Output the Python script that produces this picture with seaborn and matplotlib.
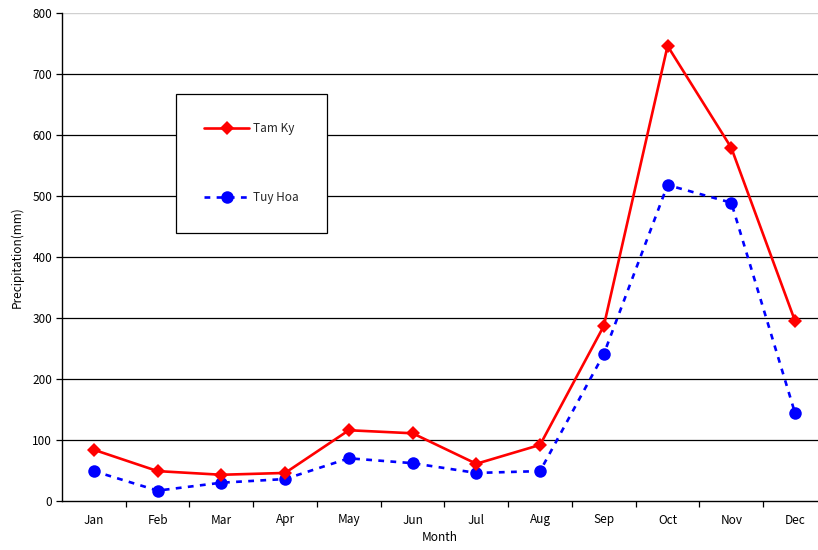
import matplotlib
matplotlib.use("Agg")
import matplotlib.pyplot as plt
import seaborn as sns
import pandas as pd
from matplotlib.lines import Line2D
from matplotlib.ticker import MultipleLocator, FixedLocator

months = ["Jan", "Feb", "Mar", "Apr", "May", "Jun",
          "Jul", "Aug", "Sep", "Oct", "Nov", "Dec"]
tam_ky = [84, 49, 43, 46, 116, 111, 61, 92, 287, 746, 579, 295]
tuy_hoa = [49, 17, 30, 36, 70, 62, 46, 49, 241, 518, 489, 144]

sns.set_theme(style="white")
plt.rcParams["font.family"] = ["Noto Sans CJK JP", "DejaVu Sans"]

df = pd.DataFrame({"Month": list(range(len(months))),
                   "Tam Ky": tam_ky, "Tuy Hoa": tuy_hoa})

fig = plt.figure(figsize=(8.18, 5.5), dpi=100)
ax = fig.add_axes([62 / 818, 49 / 550, 756 / 818, 488 / 550])

# horizontal gridlines
for yv in range(100, 800, 100):
    ax.axhline(yv, color="black", lw=0.9, zorder=1)
ax.axhline(800, color="#d0d0d0", lw=1.0, zorder=1)

sns.lineplot(data=df, x="Month", y="Tam Ky", ax=ax, color="#ff0000",
             lw=1.9, marker="D", markersize=6.8, markeredgewidth=0,
             zorder=4)
sns.lineplot(data=df, x="Month", y="Tuy Hoa", ax=ax, color="#0000ff",
             lw=1.9, linestyle=(0, (2.2, 2.4)), marker="o", markersize=9,
             markeredgewidth=0, zorder=3)

ax.set_xlim(-0.5, 11.36)
ax.set_ylim(0, 800)
ax.xaxis.set_major_locator(FixedLocator(range(12)))
ax.set_xticklabels(months)
ax.xaxis.set_minor_locator(FixedLocator([i + 0.5 for i in range(11)]))
ax.tick_params(axis="x", which="major", length=0, pad=9, labelsize=8.5,
               colors="black")
ax.tick_params(axis="x", which="minor", length=4, width=0.9,
               direction="out", bottom=True, color="black")
ax.yaxis.set_major_locator(MultipleLocator(100))
ax.tick_params(axis="y", which="major", length=4, width=0.9,
               direction="out", left=True, pad=3, labelsize=8.5,
               colors="black")

for side in ["top", "right"]:
    ax.spines[side].set_visible(False)
for side in ["left", "bottom"]:
    ax.spines[side].set_color("black")
    ax.spines[side].set_linewidth(1.0)

ax.set_xlabel("Month", fontsize=8.5, labelpad=3, color="black")
ax.set_ylabel("Precipitation(mm)", fontsize=8.5, labelpad=6, color="black")

handles = [
    Line2D([], [], color="#ff0000", lw=1.9, marker="D", markersize=6.8,
           markeredgewidth=0),
    Line2D([], [], color="#0000ff", lw=1.9, linestyle=(0, (2.2, 2.4)),
           marker="o", markersize=9, markeredgewidth=0),
]
leg = ax.legend(handles, ["Tam Ky", "Tuy Hoa"], loc="upper left",
                bbox_to_anchor=((176 - 62) / 756, (501 - 94) / 488),
                borderaxespad=0, fancybox=False, framealpha=1,
                edgecolor="black", fontsize=8.5, labelspacing=4.75,
                borderpad=2.4, handlelength=3.8, handletextpad=0.35)
leg.get_frame().set_linewidth(0.9)
leg.set_zorder(6)

fig.savefig("out.png", dpi=100, facecolor="white")
